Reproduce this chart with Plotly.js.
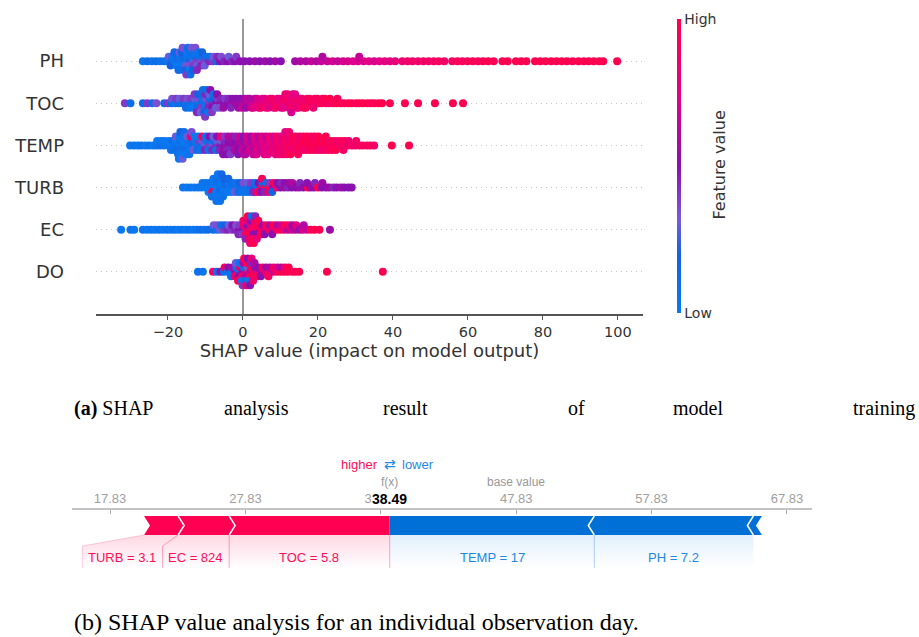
<!DOCTYPE html>
<html><head><meta charset="utf-8">
<script src="https://cdn.plot.ly/plotly-3.0.1.min.js"></script>
<style>html,body{margin:0;padding:0;background:#fff}#chart{width:919px;height:637px}</style>
</head><body><div id="chart"></div>
<script>
// ---------------- (a) SHAP summary (beeswarm) data ----------------
const features = ['PH','TOC','TEMP','TURB','EC','DO']; // top to bottom
const xTickVals = [-20,0,20,40,60,80,100];

const PH_x = [-26.7,-25.5,-24.3,-23.2,-22.1,-21.0,
 -20.2,-19.8, -19.1,-18.8,-19.3, -18.2,-17.9,-17.7,-18.3, -17.1,-16.8,-17.3,-16.9,-17.2,
 -16.0,-16.2,-15.8,-16.3,-15.9,-16.1, -15.0,-14.8,-15.2,-14.9,-15.3,-14.7,-15.1,
 -14.1,-13.8,-14.3,-13.9,-14.2,-13.7,-14.0, -13.0,-12.8,-13.2,-12.9,-13.3,-12.7,
 -12.1,-11.8,-12.2,-11.9,-12.3, -11.0,-10.8,-11.2,-10.9, -10.1,-9.8,-10.2, -9.0,-8.8,
 -8.1,-7.9, -7.0,-6.8, -6.1,-5.8, -5.0, -4.1,-3.8, -2.9, -2.1,-1.8, -0.8,
 0.4,1.8,3.2,4.5,5.9,7.2,8.6,10.1,
 13.9,15.3,16.8,18.2,19.6,20.9,21.2,22.5,23.9,25.3,26.7,28.0,29.4,30.7,31.0,32.2,33.6,35.0,36.4,37.8,39.2,40.6,
 42.5,43.9,45.2,46.7,48.1,49.5,50.9,52.2,53.7,
 55.8,57.2,58.5,59.9,61.3,62.7,64.0,65.4,66.9,
 69.2,70.6,72.8,74.2,75.6,77.9,79.3,80.7,
 82.2,83.6,85.0,86.4,87.9, 89.5,90.9,92.2,93.6,95.0,96.1, 99.8];
const PH_c = [.05,.1,.05,.1,.05,.1,
 .05,.3, .1,0,.2, .05,.1,0,.15, .1,.05,0,.3,.1,
 .05,.1,0,.2,.1,.35, .1,.05,.3,0,.15,.1,.4,
 .2,.05,.35,.1,0,.3,.1, .3,.1,.4,.05,.2,.35,
 .4,.1,.3,.05,.45, .35,.1,.45,.2, .4,.1,.3, .45,.1,
 .4,.3, .15,.45, .5,.35, .45, .5,.3, .45, .5,.4, .5,
 .5,.5,.55,.5,.55,.5,.55,.5,
 .55,.6,.6,.65,.6,.65,.6,.65,.7,.65,.7,.7,.72,.7,.65,.72,.75,.7,.75,.78,.75,.8,
 .85,.85,.9,.85,.9,.88,.9,.92,.9,
 .92,.95,.93,.95,.97,.95,.97,1,.97,
 1,.98,1,.98,1,1,.98,1,
 1,.98,1,1,.98, 1,1,.98,1,1,1, 1];

const TOC_x = [-31.5,-30.0,-26.7,-25.5,-24.2,-23.1,-21.0,-20.0,-19.1,-18.9,-18.1,-17.8,-17.1,-16.9,
 -16.1,-15.8, -15.1,-14.8,-15.2, -14.0,-13.8,-14.2, -13.1,-12.8,-13.2,-12.9,
 -12.0,-11.8,-12.2,-11.9,-12.3, -11.1,-10.8,-11.2,-10.9,-11.3,-10.7,
 -10.0,-9.8,-10.2,-9.9,-10.3,-9.7,-10.1, -9.0,-8.8,-9.2,-8.9,-9.3,-8.7,
 -8.0,-7.8,-8.2,-7.9,-8.3, -7.1,-6.8,-7.2,-6.9, -6.0,-5.8,-6.2, -5.1,-4.8,-5.2,
 -4.0,-3.8, -3.1,-2.8,-3.2, -2.0,-1.8, -1.1,-0.8,-1.2,
 0.1,0.3,-0.2, 1.0,1.2,0.8, 2.1,1.8,2.3, 3.0,3.2,2.8, 4.1,3.8,4.2, 5.0,5.2,4.8,
 6.1,5.8,6.2, 7.0,7.2,6.8, 8.1,7.8,8.2, 9.0,9.2,8.8, 10.1,9.8,10.2,
 11.0,11.2,10.8,11.3, 12.1,11.8,12.2,11.9, 13.0,13.2,12.8,13.3,12.9, 14.1,13.8,14.2,13.9,
 15.0,15.2,14.8, 16.1,15.8,16.2, 17.0,17.2,16.8, 18.1,17.8, 19.0,19.2,18.8, 20.1,19.8,
 21.0,21.2, 22.1,21.8, 23.0,23.2, 24.1, 25.0,25.2, 26.1,27.0,28.1,29.0,30.2,31.1,32.0,33.2,34.1,35.0,36.2,37.1,
 39.2,43.2,46.7,51.2,56.0,58.7];
const TOC_c = [.4,.1,.1,.4,.1,.35,.1,.4,.1,.35,.05,.4,.1,.3,
 .1,.4, .05,.35,.1, .1,.4,.05, .1,.3,0,.4,
 .05,.35,.1,.2,.45, .1,.05,.4,.15,.3,.1,
 .1,.35,.05,.45,.2,.1,.4, .4,.1,.45,.3,.05,.5,
 .45,.2,.5,.1,.4, .5,.4,.3,.5, .5,.45,.35, .5,.4,.55,
 .5,.45, .55,.5,.45, .55,.5, .6,.5,.55,
 .6,.55,.65, .6,.65,.55, .65,.6,.7, .7,.6,.75, .75,.7,.8, .8,.7,.85,
 .8,.75,.9, .85,.8,.75, .8,.9,.75, .85,.8,.9, .9,.8,.85,
 .85,.9,.75,.8, .8,.9,.75,.85, .85,.75,.9,.8,.7, .8,.9,.85,.75,
 .9,.85,.8, .9,.85,.95, .9,.85,.95, .9,.95, .95,.9,.85, .9,.95,
 .95,.9, .95,1, .9,1, .95, 1,.95, 1,.95,1,1,.95,1,1,1,.95,1,1,1,
 1,1,1,1,1,1];

const TEMP_x = [-30.1,-29.0,-28.0,-27.1,-26.0,-25.0,-24.0,-23.1,-22.9,-22.1,-21.8,-21.1,-20.9,
 -20.0,-19.8, -19.0,-18.8,-19.2, -18.0,-17.8,-18.2,-17.9,
 -17.0,-16.8,-17.2,-16.9,-17.3,-16.7,-17.1, -16.0,-15.8,-16.2,-15.9,-16.3,-15.7,-16.1,
 -15.0,-14.8,-15.2,-14.9,-15.3, -14.0,-13.8,-14.2,-13.9,-14.3,-13.7,
 -13.0,-12.8,-13.2,-12.9, -12.0,-11.8,-12.2,-11.9, -11.1,-10.8,-11.2,-10.9, -10.0,-9.8,-10.2,-9.9,
 -9.0,-8.8,-9.2,-8.9, -8.1,-7.8,-8.2,-7.9, -7.0,-6.8,-7.2,-6.9, -6.0,-5.8,-6.2,-5.9,
 -5.0,-4.8,-5.2,-4.9,-5.3, -4.0,-3.8,-4.2,-3.9,-4.3, -3.0,-2.8,-3.2,-2.9,-3.3, -2.0,-1.8,-2.2,-1.9,
 -1.0,-0.8,-1.2,-0.9,-1.3, 0.0,0.2,-0.2,0.1,0.3, 1.0,1.2,0.8,1.1,0.7, 2.0,2.2,1.8,2.1,
 3.0,3.2,2.8,3.1,2.7, 4.0,4.2,3.8,4.1,3.7, 5.0,5.2,4.8,5.1, 6.0,6.2,5.8,6.1,5.7,
 7.0,7.2,6.8,7.1,6.7, 8.0,8.2,7.8,8.1, 9.0,9.2,8.8,9.1,8.7, 10.0,10.2,9.8,10.1,9.7,
 11.0,11.2,10.8,11.1,10.7,11.3, 12.0,12.2,11.8,12.1,11.7,12.3, 13.0,13.2,12.8,13.1,12.7,
 14.0,14.2,13.8,14.1, 15.0,15.2,14.8,15.1,14.7, 16.0,16.2,15.8,16.1, 17.0,17.2,16.8,17.1,
 18.0,18.2,17.8,18.1, 19.0,19.2,18.8,19.1, 20.0,20.2,19.8,20.1, 21.0,21.2,20.8,
 22.0,22.2,21.8,22.1, 23.0,23.2,22.8, 24.0,24.2,23.8, 25.0,25.2,24.8, 26.0,26.2,
 27.0,27.2,26.8, 28.0,28.2, 29.1, 30.0,30.2, 31.1, 32.0, 33.1, 34.0, 35.0,
 39.7,44.3];
const TEMP_c = [0,.05,0,.05,0,.05,0,.05,0,.1,0,.05,0,
 .05,0, 0,.1,.05, .05,0,.1,.3,
 0,.05,.1,0,.05,.2,0, .05,0,.1,.05,0,.1,.3,
 0,.05,.1,.3,0, .05,.1,0,.85,.05,.35,
 .1,.05,.3,0, .05,.4,.1,0, .1,.35,.05,.9, .3,.05,.45,.1,
 .4,.1,.05,.5, .35,.1,.45,.3, .45,.3,.1,.5, .5,.35,.45,.8,
 .5,.45,.55,.4,.5, .55,.5,.45,.6,.5, .5,.55,.45,.6,.4, .55,.5,.6,.45,
 .55,.6,.5,.65,.5, .6,.55,.65,.5,.6, .6,.65,.55,.7,.6, .65,.6,.7,.55,
 .65,.7,.6,.75,.65, .7,.65,.75,.6,.7, .7,.75,.65,.8, .75,.7,.8,.65,.75,
 .75,.8,.7,.85,.75, .8,.75,.85,.7, .8,.85,.75,.9,.8, .85,.8,.9,.75,.85,
 .85,.9,.8,.95,.85,.75, .9,.85,.95,.8,.9,.85, .9,.95,.85,.9,1,
 .9,.95,.85,1, .95,.9,1,.85,.95, .95,1,.9,.95, 1,.95,.9,1,
 .95,1,.9,.95, 1,.95,1,.9, .95,1,.9,1, 1,.95,.9,
 .95,1,.85,1, 1,.9,.95, .9,1,.95, .95,.85,1, .9,.95,
 .85,.95,.9, .9,.85, .9, .85,.9, .9, .95, .9, .95, .9,
 1,1];

const TURB_x = [-16.0,-15.0,-14.0,-13.0,-12.0,-11.1,-10.8,
 -10.0,-9.8, -9.0,-8.8,-9.2, -8.0,-7.8,-8.2,-7.9,-8.3,
 -7.0,-6.8,-7.2,-6.9,-7.3,-6.7,-7.1, -6.0,-5.8,-6.2,-5.9,-6.3,-5.7,-6.1,
 -5.0,-4.8,-5.2,-4.9,-5.3, -4.0,-3.8,-4.2,-3.9, -3.0,-2.8,-3.2, -2.0,-1.8,-2.2, -1.0,-0.8,-1.2,
 0.0,0.2,-0.2, 1.0,1.2,0.8, 2.0,2.2,1.8, 3.0,3.2,2.8, 4.0,4.2,3.8, 5.0,5.2,4.8,5.1,
 6.0,6.2,5.8, 7.0,7.2,6.8, 8.0,8.2,7.8, 9.0,9.2, 10.0,10.2, 11.0,11.2, 12.0,12.2, 13.0,13.2,
 14.1, 15.0,15.2, 16.1, 17.3,17.1, 18.1, 19.0,19.2, 20.0, 21.0,21.2, 22.1, 23.0, 24.1, 25.0, 26.1, 27.0, 28.1, 29.0];
const TURB_c = [.05,0,.05,0,.05,0,.05,
 0,.05, 0,.05,0, .05,0,1,0,.05,
 0,.05,0,.1,.05,0,.05, .05,0,.1,.05,0,.15,.05,
 .05,.1,0,.2,.05, .1,.05,0,.15, .05,.1,0, .1,.05,.3, .05,.2,.1,
 .1,.35,.05, .1,.3,.05, .15,.4,.1, .2,.1,.45, .1,.5,.9, .9,.15,.5,.95,
 1,.1,.45, .95,.4,.9, .5,.95,.2, .9,.5, .5,.45, .55,.5, .45,.55, .5,.6,
 .5, .55,.45, .5, 1,.5, .55, .5,.45, 1, .5,.55, .5, .55, .45, .5, .55, .5, .5, .5];

const EC_x = [-32.5,-30.0,-29.0,-26.7,-25.6,-24.5,-23.5,-22.4,-21.4,-20.3,-19.3,-18.3,-17.3,-16.3,-15.3,-14.3,-13.3,-12.3,-11.3,-10.3,-9.3,
 -8.0,-7.8, -7.0,-6.8, -6.1,-5.8, -5.0,-4.8, -4.1,-3.8, -3.0,-2.8, -2.1,-1.8, -1.0,-0.8,-1.2,
 0.0,0.2,-0.2,0.1, 1.0,1.2,0.8,1.1,0.7,1.3, 2.0,2.2,1.8,2.1,1.7,2.3,1.9, 3.0,3.2,2.8,3.1,2.7,3.3,2.9,
 4.0,4.2,3.8,4.1,3.7, 5.0,5.2,4.8, 6.0,6.2,5.8, 7.0,7.2, 8.0,8.2,7.8, 9.0,9.2, 10.0,10.2, 11.0,11.2,
 12.0,12.2, 13.0,13.2, 14.0,14.2, 15.1, 16.0,16.2, 17.1, 18.1, 19.1, 20.4, 23.2];
const EC_c = [0,.05,0,.05,0,.05,0,.05,0,.05,0,.05,0,.05,0,.05,0,.05,.1,.05,.1,
 .1,.3, .05,.35, .3,.1, .4,.2, .45,.3, .4,.5, .45,.35, .5,.4,.45,
 .5,.85,.4,.9, .9,.5,.95,.75,.45,1, .95,.8,1,.5,.9,.1,.85, .9,1,.5,.85,.95,.45,1,
 .85,.95,.5,1,.8, .9,.55,1, .8,.95,.5, .9,.6, .75,1,.5, .9,.6, 1,.7, .8,.95,
 .6,.9, .7,.55, .6,.75, .55, .7,.6, .65, 1, 1, 1, .55];

const DO_x = [-12.0,-10.7,-8.0,-7.0,-6.0,-5.1,-4.9,-4.1,-3.9,
 -3.0,-2.8,-3.2, -2.0,-1.8,-2.2,-1.9, -1.0,-0.8,-1.2,-0.9,-1.3,
 0.0,0.2,-0.2,0.1,-0.3,0.3,-0.1, 1.0,1.2,0.8,1.1,0.7,1.3,0.9, 2.0,2.2,1.8,2.1,1.7,2.3,1.9,
 3.0,3.2,2.8,3.1,2.7, 4.0,4.2,3.8, 5.0,5.2,4.8, 6.0,6.2, 7.0,7.2,6.8, 8.0,8.2, 9.0,9.2,
 10.0,10.2, 11.0,11.2, 12.0,12.2, 13.1, 14.0, 15.0, 22.4, 37.3];
const DO_c = [.05,.05,.9,.1,.5,.1,.9,.05,.5,
 .1,.6,.05, .5,.1,.9,.3, .1,.85,.5,.05,.95,
 .5,.1,.9,.6,.05,1,.4, .9,.3,.6,1,.1,.5,.85, .6,1,.9,.45,.05,.8,.5,
 .9,.5,1,.6,.85, .7,.5,.95, .6,.9,.5, .8,.55, .9,.6,.95, .65,.9, 1,.7,
 .95,.6, 1,.9, .95,1, 1, .95, 1, 1, 1];

const shapX = [PH_x, TOC_x, TEMP_x, TURB_x, EC_x, DO_x];
const shapC = [PH_c, TOC_c, TEMP_c, TURB_c, EC_c, DO_c];

// ---------------- (b) force plot data ----------------
const baseValue = 47.83;
const fxValue = 38.49;
const posNames = ['TOC','EC','TURB'];          // push higher, nearest f(x) first
const posVals  = [11.86, 3.77, 2.52];
const posText  = ['TOC = 5.8','EC = 824','TURB = 3.1'];
const negNames = ['TEMP','PH','DO'];           // push lower, nearest f(x) first
const negVals  = [15.11, 11.75, 0.63];
const negText  = ['TEMP = 17','PH = 7.2',''];

// ---------------- layout constants ----------------
const W = 919, H = 637;
const X1DOM = [96/W, 643/W], Y1DOM = [1-314/H, 1-19/H];
const X1RANGE = [-39.2, 106.7];
const X2DOM = [72/W, 812/W], Y2DOM = [1-600/H, 1-510/H];
const X2RANGE = [15.02, 69.68];
const RED = 'rgb(255,0,82)', BLUE = 'rgb(0,112,214)';
const RED_T = 'rgb(255,13,87)', BLUE_T = 'rgb(30,136,229)';
const sans = '"Liberation Sans", Arial, sans-serif';
const serif = '"Liberation Serif", "Times New Roman", serif';

// shap-style beeswarm vertical layout
function swarm(xs, row) {
  const BIN = 1.0, ROW_H = 0.47;
  const q = xs.map(v => Math.round(v / BIN));
  const idx = xs.map((_, i) => i).sort((a, b) => (q[a] - q[b]) || (a - b));
  const ys = new Array(xs.length).fill(0);
  let layer = 0, last = null;
  for (const i of idx) {
    if (q[i] !== last) layer = 0;
    ys[i] = Math.ceil(layer / 2) * ((layer % 2) * 2 - 1);
    layer++; last = q[i];
  }
  const m = Math.max(...ys.map(v => v + 1));
  const s = 0.9 * ROW_H / m;
  return ys.map(v => row + v * s);
}

const traces = [];
features.forEach((f, k) => {
  const row = features.length - 1 - k;
  traces.push({
    type: 'scatter', mode: 'markers', x: shapX[k], y: swarm(shapX[k], row),
    xaxis: 'x', yaxis: 'y', hoverinfo: 'skip', showlegend: false,
    marker: { color: shapC[k], coloraxis: 'coloraxis', size: 8, line: { width: 0 } }
  });
});

// ---------------- force plot geometry ----------------
const pxPerUnit = (X2DOM[1] - X2DOM[0]) * W / (X2RANGE[1] - X2RANGE[0]);
const D = 6 / pxPerUnit;           // chevron depth
const TOP = 6, BOT = 25, MID = 15.5, DIAG = 36, FADE = 58, LABY = 47;
const ctx = document.createElement('canvas').getContext('2d');
ctx.font = '13px ' + sans;
const labW = t => (ctx.measureText(t).width + 12) / pxPerUnit;

const shapes = [], annotations = [];
function poly(pts, color) {
  return { type: 'path', xref: 'x2', yref: 'y2', layer: 'above',
    path: 'M' + pts.map(p => p[0] + ',' + p[1]).join(' L') + ' Z',
    fillcolor: color, line: { width: 0 } };
}
function pline(pts, color, w) {
  return { type: 'path', xref: 'x2', yref: 'y2', layer: 'above',
    path: 'M' + pts.map(p => p[0] + ',' + p[1]).join(' L'),
    line: { color: color, width: w } };
}

// red (positive) segments, from f(x) leftwards
let cur = fxValue, regCur = fxValue;
const redBounds = [];
posVals.forEach((v, i) => {
  const e = cur, s = cur - v;
  const pts = [[s, TOP], [e, TOP]];
  if (i > 0) pts.push([e + D, MID]);
  pts.push([e, BOT], [s, BOT], [s + D, MID]);
  shapes.push(poly(pts, RED));
  if (i > 0) shapes.push(pline([[e, TOP], [e + D, MID], [e, BOT]], 'white', 1.5));
  const rw = Math.max(v, labW(posText[i]));
  const r0 = regCur - rw;
  annotations.push({ xref: 'x2', yref: 'y2', x: (r0 + regCur) / 2, y: LABY, yanchor: 'middle', text: posText[i],
    showarrow: false, font: { family: sans, size: 13, color: RED_T } });
  redBounds.push({ bar: s, reg: r0 });
  cur = s; regCur = r0;
});
const redStart = cur, redRegStart = regCur;

// blue (negative) segments, from f(x) rightwards
cur = fxValue; let blueLabEnd = fxValue;
const blueBounds = [];
negVals.forEach((v, i) => {
  const s = cur, e = cur + v;
  const pts = [[s, TOP], [e, TOP], [e - D, MID], [e, BOT], [s, BOT]];
  if (i > 0) pts.push([s - D, MID]);
  shapes.push(poly(pts, BLUE));
  if (i > 0) shapes.push(pline([[s, TOP], [s - D, MID], [s, BOT]], 'white', 1.5));
  if (negText[i]) {
    annotations.push({ xref: 'x2', yref: 'y2', x: (s + e) / 2, y: LABY, yanchor: 'middle', text: negText[i],
      showarrow: false, font: { family: sans, size: 13, color: BLUE_T } });
    blueLabEnd = e;
    if (i > 0) blueBounds.push(s);
  }
  cur = e;
});

// gradient shading under the bars
traces.push({
  type: 'scatter', mode: 'lines', xaxis: 'x2', yaxis: 'y2', hoverinfo: 'skip', showlegend: false,
  x: [redStart, fxValue, fxValue, redRegStart, redRegStart, redStart],
  y: [BOT, BOT, FADE, FADE, DIAG, BOT],
  fill: 'toself', line: { width: 0 }, fillcolor: 'rgba(255,13,87,0.08)',
  fillgradient: { type: 'vertical', start: BOT, stop: FADE,
    colorscale: [[0, 'rgba(255,13,87,0.16)'], [1, 'rgba(255,13,87,0)']] }
});
traces.push({
  type: 'scatter', mode: 'lines', xaxis: 'x2', yaxis: 'y2', hoverinfo: 'skip', showlegend: false,
  x: [fxValue, blueLabEnd, blueLabEnd, fxValue, fxValue],
  y: [BOT, BOT, FADE, FADE, BOT],
  fill: 'toself', line: { width: 0 }, fillcolor: 'rgba(30,136,229,0.06)',
  fillgradient: { type: 'vertical', start: BOT, stop: FADE,
    colorscale: [[0, 'rgba(30,136,229,0.13)'], [1, 'rgba(30,136,229,0)']] }
});
// separator lines in the label area
const redLine = 'rgba(255,13,87,0.35)', blueLine = 'rgba(30,136,229,0.35)';
redBounds.slice(0, -1).forEach(b => shapes.push(pline([[b.bar, BOT], [b.reg, DIAG], [b.reg, FADE]], redLine, 1)));
shapes.push(pline([[redStart, BOT], [redRegStart, DIAG], [redRegStart, FADE]], 'rgba(255,13,87,0.2)', 1));
shapes.push(pline([[fxValue, BOT], [fxValue, FADE]], redLine, 1));
blueBounds.forEach(b => shapes.push(pline([[b, BOT], [b, FADE]], blueLine, 1)));

// texts around f(x)
const yp = px => 1 - px / H;
const mid = { yanchor: 'middle', showarrow: false };
annotations.push(
  Object.assign({ xref: 'x2', yref: 'paper', x: fxValue, y: yp(464), text: '⇄',
    font: { family: 'DejaVu Sans', size: 14, color: BLUE_T } }, mid),
  Object.assign({ xref: 'x2', yref: 'paper', x: fxValue, xshift: -10, xanchor: 'right', y: yp(464), text: 'higher',
    font: { family: sans, size: 13, color: RED_T } }, mid),
  Object.assign({ xref: 'x2', yref: 'paper', x: fxValue, xshift: 10, xanchor: 'left', y: yp(464), text: 'lower',
    font: { family: sans, size: 13, color: BLUE_T } }, mid),
  Object.assign({ xref: 'x2', yref: 'paper', x: fxValue, y: yp(482), text: 'f(x)',
    font: { family: sans, size: 12, color: '#999' } }, mid),
  Object.assign({ xref: 'x2', yref: 'paper', x: fxValue, y: yp(499), text: '<b>' + fxValue.toFixed(2) + '</b>',
    bgcolor: 'white', borderpad: 0, font: { family: sans, size: 14, color: '#000' } }, mid),
  Object.assign({ xref: 'x2', yref: 'paper', x: baseValue, y: yp(482), text: 'base value',
    font: { family: sans, size: 12, color: '#999' } }, mid)
);

// colorbar side title
annotations.push(Object.assign({ xref: 'paper', yref: 'paper', x: 730 / W, y: yp(165), text: 'Feature value',
  textangle: -90, font: { family: 'DejaVu Sans', size: 16, color: '#333' } }, mid));

// captions
const capA = [['<b>(a)</b> SHAP', 72], ['analysis', 222], ['result', 381], ['of', 566], ['model', 671], ['training', 851]];
capA.forEach(([t, x]) => annotations.push(Object.assign({ xref: 'paper', yref: 'paper', x: x / W, y: yp(408), xanchor: 'left',
  text: t, font: { family: serif, size: 20, color: '#000' } }, mid)));
annotations.push(Object.assign({ xref: 'paper', yref: 'paper', x: 72 / W, y: yp(622), xanchor: 'left',
  text: '(b) SHAP value analysis for an individual observation day.',
  font: { family: serif, size: 24, color: '#000' } }, mid));

const forceTicks = [-3, -2, -1, 0, 1, 2].map(k => baseValue + 10 * k);

const layout = {
  width: W, height: H, margin: { l: 0, r: 0, t: 0, b: 0 },
  paper_bgcolor: '#fff', plot_bgcolor: 'rgba(0,0,0,0)',
  font: { family: 'DejaVu Sans', color: '#333' }, showlegend: false,
  xaxis: {
    domain: X1DOM, range: X1RANGE, anchor: 'y', automargin: false,
    tickvals: xTickVals, ticks: 'outside', ticklen: 4, tickwidth: 1, tickcolor: '#555',
    showline: true, linecolor: '#555', linewidth: 1.5, showgrid: false,
    zeroline: true, zerolinecolor: '#999', zerolinewidth: 1.6,
    tickfont: { size: 14.5, color: '#333' },
    title: { text: 'SHAP value (impact on model output)', font: { size: 18, color: '#333' }, standoff: 2 }
  },
  yaxis: {
    domain: Y1DOM, range: [-1, features.length], anchor: 'x', automargin: false,
    tickvals: features.map((_, k) => features.length - 1 - k), ticktext: features,
    ticks: '', showline: false, zeroline: false,
    showgrid: true, gridcolor: '#c8c8c8', gridwidth: 1, griddash: '1px,4px',
    tickfont: { size: 18, color: '#333' }, ticklabelstandoff: 31
  },
  xaxis2: {
    domain: X2DOM, range: X2RANGE, anchor: 'y2', side: 'top', automargin: false,
    tickvals: forceTicks, ticktext: forceTicks.map(v => v.toFixed(2)),
    ticks: 'inside', ticklen: 4, tickcolor: '#aaa', tickwidth: 1,
    showline: true, linecolor: '#c4c4c4', linewidth: 2, showgrid: false, zeroline: false,
    tickfont: { family: sans, size: 13, color: '#a0a0a0' }
  },
  yaxis2: { domain: Y2DOM, range: [90, 0], anchor: 'x2', visible: false, automargin: false },
  coloraxis: {
    cmin: 0, cmax: 1,
    colorscale: [[0, '#0a78f0'], [0.2, '#1462e0'], [0.32, '#7a5ad8'], [0.5, '#8a10b0'], [0.72, '#e0008a'], [1, '#ff0050']],
    colorbar: {
      x: 677 / W, xanchor: 'left', y: yp(166), yanchor: 'middle', len: 294 / H, lenmode: 'fraction',
      thickness: 4, outlinewidth: 0, xpad: 0, ypad: 0,
      tickvals: [0, 1], ticktext: ['Low', 'High'], ticks: '',
      tickfont: { family: 'DejaVu Sans', size: 14, color: '#333' }
    }
  },
  shapes: shapes, annotations: annotations
};

Plotly.newPlot('chart', traces, layout, { displayModeBar: false, staticPlot: true });
</script>
</body></html>
